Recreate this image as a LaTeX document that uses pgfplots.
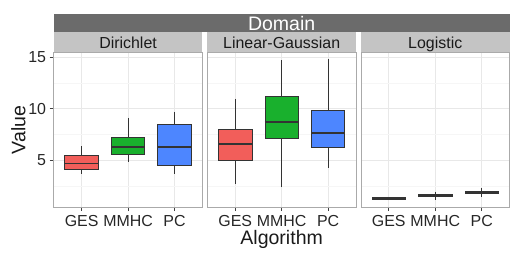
\documentclass[border=0pt]{standalone}
\usepackage{fontspec}
\setmainfont{Liberation Sans}
\usepackage{pgfplots}
\pgfplotsset{compat=1.18}
\usepgfplotslibrary{statistics}
\definecolor{cR}{RGB}{242,94,90}
\definecolor{cG}{RGB}{25,176,45}
\definecolor{cB}{RGB}{77,134,255}
\definecolor{stripD}{RGB}{107,107,107}
\definecolor{stripL}{RGB}{196,196,196}
\definecolor{gridM}{RGB}{232,232,232}
\definecolor{gridm}{RGB}{246,246,246}
\definecolor{border}{RGB}{170,170,170}
\definecolor{txt}{RGB}{26,26,26}
\pgfplotsset{
  panel/.style={
    scale only axis, width=148.7bp, height=154.7bp,
    xmin=0.4, xmax=3.6, ymin=0.52, ymax=15.45,
    xtick={1,2,3}, xticklabels={GES,MMHC,PC},
    ytick={5,10,15}, minor ytick={2.5,7.5,12.5},
    grid=both,
    major grid style={draw=gridM, line width=0.6bp},
    minor grid style={draw=gridm, line width=0.6bp},
    axis line style={draw=border, line width=0.6bp},
    tick align=outside, major tick length=4bp, minor tick length=0pt,
    xtick pos=left, ytick pos=left,
    tick style={draw=black!75, line width=0.6bp},
    /pgf/number format/assume math mode=true,
    ticklabel style={font=\fontsize{16}{18}\selectfont, text=black!85},
    xticklabel style={anchor=base, yshift=-15.7bp},
    yticklabel style={inner sep=3.5bp},
    boxplot/draw direction=y,
  }
}
\newcommand{\bx}[7]{\addplot[boxplot prepared={draw position=#1, lower whisker=#2, lower quartile=#3, median=#4, upper quartile=#5, upper whisker=#6, box extend=0.72, whisker extend=0, every median/.style={line width=1.8bp}}, draw=black!80, fill=#7, line width=0.8bp, solid] coordinates {};}
\begin{document}
\begin{tikzpicture}[x=1bp,y=1bp]
\useasboundingbox (0,0) rectangle (524,255);
\begin{axis}[panel, name=p1, at={(53.7bp,48bp)}, anchor=south west,
  ylabel={Value}, ylabel style={at={(axis description cs:-0.237,0.498)}, anchor=center, font=\fontsize{19.6}{21}\selectfont, text=txt}]
\bx{1}{3.75}{4.16}{4.71}{5.48}{6.38}{cR}
\bx{2}{4.90}{5.61}{6.31}{7.28}{9.11}{cG}
\bx{3}{3.71}{4.52}{6.28}{8.53}{9.73}{cB}
\end{axis}
\begin{axis}[panel, name=p2, at={(207.3bp,48bp)}, anchor=south west,
  yticklabels={}, ytick style={draw=none},
  xlabel={Algorithm}, xlabel style={at={(axis description cs:0.5,-0.241)}, anchor=base, font=\fontsize{19.6}{21}\selectfont, text=txt}]
\bx{1}{2.74}{5.00}{6.57}{7.99}{10.98}{cR}
\bx{2}{2.45}{7.12}{8.73}{11.18}{14.68}{cG}
\bx{3}{4.29}{6.31}{7.64}{9.83}{14.78}{cB}
\end{axis}
\begin{axis}[panel, name=p3, at={(360.9bp,48bp)}, anchor=south west,
  yticklabels={}, ytick style={draw=none}]
\bx{1}{1.18}{1.26}{1.33}{1.41}{1.48}{cR}
\bx{2}{1.24}{1.57}{1.66}{1.75}{2.00}{cG}
\bx{3}{1.50}{1.81}{1.93}{2.06}{2.36}{cB}
\end{axis}
% facet strips
\fill[stripL] (53.7,202.7) rectangle (202.4,222.7);
\fill[stripL] (207.3,202.7) rectangle (356.0,222.7);
\fill[stripL] (360.9,202.7) rectangle (509.6,222.7);
\fill[stripD] (53.7,222.7) rectangle (509.6,241.0);
\node[anchor=base, inner sep=0, text=txt, font=\fontsize{16}{18}\selectfont] at (128.05,206.2) {Dirichlet};
\node[anchor=base, inner sep=0, text=txt, font=\fontsize{16}{18}\selectfont] at (281.65,206.2) {Linear-Gaussian};
\node[anchor=base, inner sep=0, text=txt, font=\fontsize{16}{18}\selectfont] at (435.25,206.2) {Logistic};
\node[anchor=base, inner sep=0, text=white, font=\fontsize{19.6}{21}\selectfont] at (281.65,224.5) {Domain};
\end{tikzpicture}
\end{document}
